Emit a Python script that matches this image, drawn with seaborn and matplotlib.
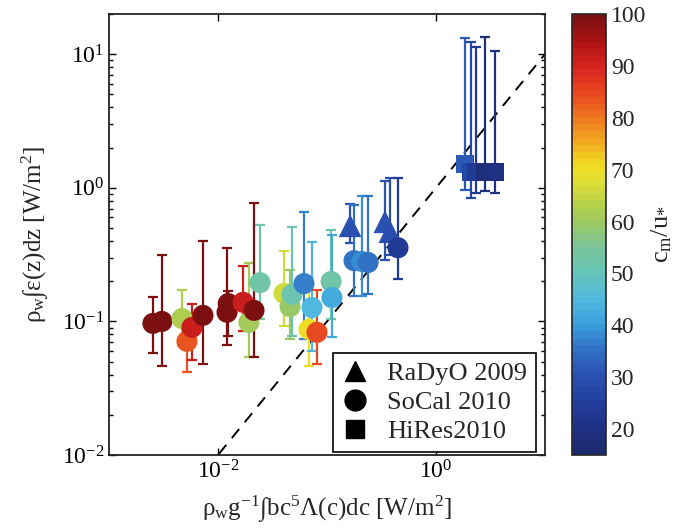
import numpy as np
import pandas as pd
import matplotlib
matplotlib.use("Agg")
import matplotlib.pyplot as plt
import seaborn as sns
from matplotlib.lines import Line2D
from matplotlib import ticker
from matplotlib.colors import Normalize, LinearSegmentedColormap
from matplotlib.cm import ScalarMappable

# ---------------- data ----------------
# SoCal 2010 (circles)
socal_x = [0.00253, 0.00306, 0.00468, 0.00519, 0.00577, 0.00728, 0.0121, 0.0124,
           0.0170, 0.0192, 0.0214, 0.0243, 0.0403, 0.0458, 0.0477, 0.0615,
           0.0684, 0.0728, 0.0809, 0.109, 0.111, 0.177, 0.209, 0.238, 0.448]
socal_y = [0.0966, 0.100, 0.105, 0.0709, 0.0902, 0.111, 0.117, 0.136,
           0.139, 0.0984, 0.121, 0.195, 0.162, 0.129, 0.159, 0.192,
           0.0871, 0.127, 0.0828, 0.199, 0.151, 0.285, 0.281, 0.276, 0.356]
socal_lo = [0.0577, 0.0461, 0.065, 0.0416, 0.0512, 0.0478, 0.0662, 0.0773,
            0.0842, 0.0539, 0.0539, 0.1035, 0.0918, 0.0734, 0.0773, 0.0734,
            0.0461, 0.0597, 0.0478, 0.1035, 0.076, 0.154, 0.156, 0.159, 0.209]
socal_hi = [0.151, 0.316, 0.173, 0.0871, 0.136, 0.402, 0.356, 0.170,
            0.262, 0.275, 0.773, 0.53, 0.339, 0.244, 0.512, 0.662,
            0.213, 0.395, 0.173, 0.486, 0.446, 0.747, 0.871, 0.871, 1.188]
socal_c = [99, 99, 62, 84, 92, 99, 99, 99,
           92, 61, 99, 53, 66, 60, 52, 37,
           70, 45, 85, 53, 42, 35, 38, 36, 24]

# RaDyO 2009 (triangles)
radyo_x = [0.163, 0.340, 0.378]
radyo_y = [0.52, 0.557, 0.47]
radyo_lo = [0.389, 0.290, 0.316]
radyo_hi = [0.76, 1.128, 1.188]
radyo_c = [30, 30, 29]

# HiRes2010 (squares)
hires_x = [1.846, 2.094, 2.328, 2.818, 3.477]
hires_y = [1.51, 1.316, 1.316, 1.316, 1.316]
hires_lo = [0.966, 0.842, 0.918, 0.95, 0.918]
hires_hi = [13.2, 12.3, 11.3, 13.4, 10.5]
hires_c = [31, 27, 24, 18, 19]

campaigns = ["RaDyO 2009", "SoCal 2010", "HiRes2010"]
cbar_ticks = [20, 30, 40, 50, 60, 70, 80, 90, 100]

# ---------------- style ----------------
sns.set_style("ticks")
plt.rcParams["font.family"] = ["Liberation Serif", "DejaVu Serif"]
plt.rcParams["mathtext.fontset"] = "custom"
plt.rcParams["mathtext.rm"] = "Liberation Serif"
plt.rcParams["mathtext.it"] = "Liberation Serif:italic"
plt.rcParams["mathtext.bf"] = "Liberation Serif:bold"

# muted jet-like colormap as printed in the reference (value 15 -> 100)
anchors = [
    (15, "#1d2a6e"), (20, "#1f3187"), (25, "#22409e"), (30, "#2a52b2"),
    (35, "#3270c4"), (40, "#3aa0dc"), (45, "#52bade"), (50, "#66c4b8"),
    (55, "#7cc49a"), (60, "#9cc860"), (64, "#bcd246"), (68, "#e2e034"),
    (71, "#f0de20"), (75, "#f2b020"), (80, "#ee7a22"), (85, "#e84a20"),
    (90, "#d82420"), (95, "#b01414"), (100, "#7c1010"),
]
cmap = LinearSegmentedColormap.from_list(
    "mjet", [((v - 15) / 85, c) for v, c in anchors], N=64)
norm = Normalize(vmin=15, vmax=100)

fig = plt.figure(figsize=(6.92, 5.32), dpi=100)
ax = fig.add_axes([109 / 692, 77 / 532, 436 / 692, 441 / 532])

sets = [
    ("RaDyO 2009", radyo_x, radyo_y, radyo_lo, radyo_hi, radyo_c, "^", 270),
    ("SoCal 2010", socal_x, socal_y, socal_lo, socal_hi, socal_c, "o", 230),
    ("HiRes2010", hires_x, hires_y, hires_lo, hires_hi, hires_c, "s", 180),
]

# error bars
for name, xs, ys, lo, hi, cs, mk, s in sets:
    for xi, yi, l, h, c in zip(xs, ys, lo, hi, cs):
        ax.errorbar([xi], [yi], yerr=[[yi - l], [h - yi]], fmt="none",
                    ecolor=cmap(norm(c)), elinewidth=1.6, capsize=3.8,
                    capthick=1.6, zorder=2)

# markers
for name, xs, ys, lo, hi, cs, mk, s in sets:
    df = pd.DataFrame({"x": xs, "y": ys, "c": cs})
    sns.scatterplot(data=df, x="x", y="y", hue="c", palette=cmap,
                    hue_norm=(15, 100), marker=mk, s=s, linewidth=0,
                    legend=False, ax=ax, zorder=3)

# 1:1 line
ax.plot([1e-3, 1e1], [1e-3, 1e1], ls=(0, (6, 4.5)), color="k", lw=1.4, zorder=1)

ax.set_xscale("log")
ax.set_yscale("log")
ax.set_xlim(1e-3, 1e1)
ax.set_ylim(1e-2, 20)

ax.set_xticks([1e-2, 1e0])
ax.xaxis.set_major_formatter(ticker.LogFormatterMathtext())
ax.xaxis.set_minor_locator(ticker.NullLocator())
ax.set_yticks([1e-2, 1e-1, 1e0, 1e1])
ax.yaxis.set_major_formatter(ticker.LogFormatterMathtext())
ax.yaxis.set_minor_locator(ticker.LogLocator(base=10, subs=np.arange(2, 10)))
ax.yaxis.set_minor_formatter(ticker.NullFormatter())

ax.tick_params(which="both", direction="in", top=True, right=True,
               labelsize=17, width=1.0, colors="k")
ax.tick_params(which="major", length=5)
ax.tick_params(which="minor", length=3)
for sp in ax.spines.values():
    sp.set_linewidth(1.3)
    sp.set_color("#222222")

ax.set_xlabel("ρ$_\\mathrm{w}$g$^{-1}$∫bc$^{5}$Λ(c)dc [W/m$^{2}$]",
              fontsize=18, labelpad=8)
ax.set_ylabel("ρ$_\\mathrm{w}$∫ε(z)dz [W/m$^{2}$]",
              fontsize=18, labelpad=8)

handles = [Line2D([], [], marker="^", color="k", ls="none", markersize=15),
           Line2D([], [], marker="o", color="k", ls="none", markersize=15),
           Line2D([], [], marker="s", color="k", ls="none", markersize=13)]
leg = ax.legend(handles, campaigns, loc="lower right",
                bbox_to_anchor=(536 / 692, 80 / 532),
                bbox_transform=fig.transFigure, fontsize=19,
                frameon=True, fancybox=False, edgecolor="k", framealpha=1,
                borderaxespad=0, handlelength=1.0, handletextpad=0.7,
                labelspacing=0.2, borderpad=0.35)
leg.get_frame().set_linewidth(1.2)

# colorbar
cax = fig.add_axes([572 / 692, 77 / 532, 34 / 692, 441 / 532])
sm = ScalarMappable(norm=norm, cmap=cmap)
cb = fig.colorbar(sm, cax=cax)
cb.set_ticks(cbar_ticks)
cb.ax.tick_params(direction="in", left=True, right=True, length=4,
                  labelsize=17)
cb.outline.set_linewidth(1.2)
cb.set_label(r"c$_\mathrm{m}$/u$_{*}$", fontsize=19, labelpad=2)

fig.savefig("out.png", dpi=100)
